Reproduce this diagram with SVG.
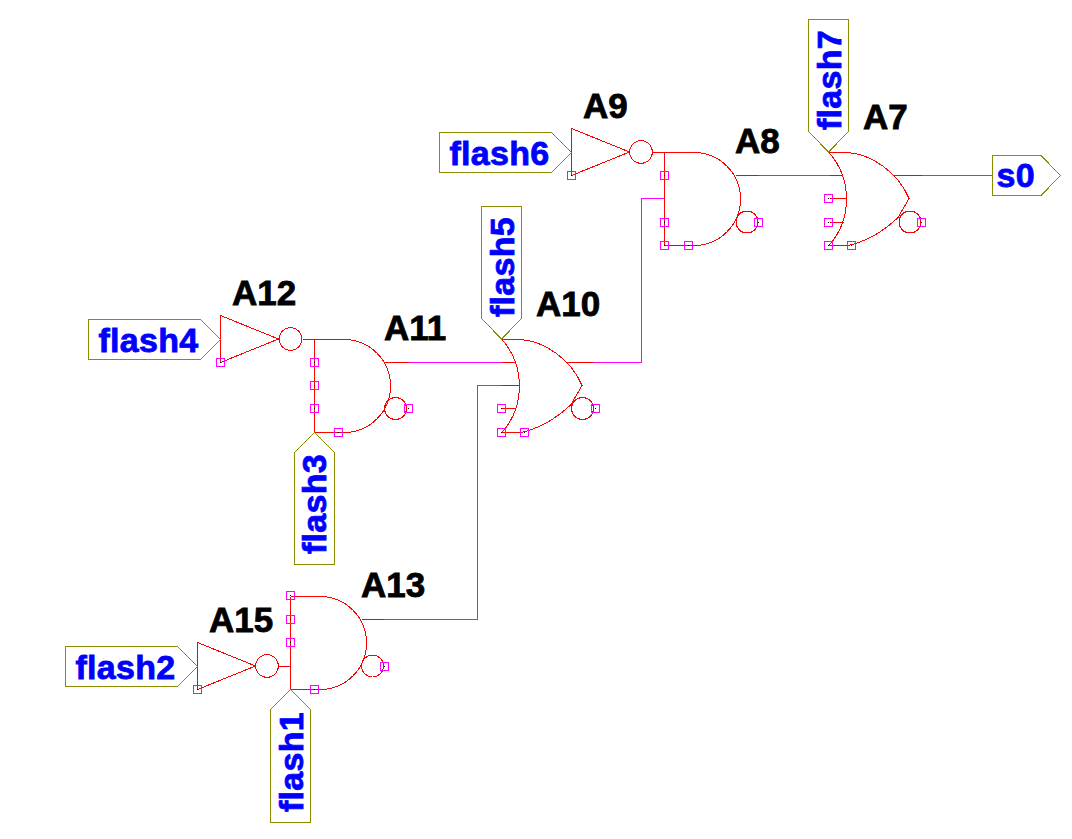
<svg xmlns="http://www.w3.org/2000/svg" xmlns:xlink="http://www.w3.org/1999/xlink" width="1072" height="839" viewBox="0 0 1072 839">
<style>
.g{fill:none;stroke:#f00;stroke-width:1;shape-rendering:crispEdges}
.w{fill:none;stroke:#f0f;stroke-width:1;shape-rendering:crispEdges}
.r{fill:none;stroke:#f00;stroke-width:1;shape-rendering:crispEdges}
.p{fill:none;stroke:#f0f;stroke-width:1;shape-rendering:crispEdges}
.d{fill:#000;shape-rendering:crispEdges}
.l{fill:#fff;stroke:#8c8c00;stroke-width:1;shape-rendering:crispEdges}
.t{font-family:"Liberation Sans",Arial,sans-serif;font-weight:bold;font-size:34px;letter-spacing:.3px;fill:#00f;stroke:#00f;stroke-width:.8}
.n{font-family:"Liberation Sans",Arial,sans-serif;font-weight:bold;font-size:35px;fill:#000;stroke:#000;stroke-width:.8}
</style>
<defs>
<g id="sq"><rect class="p" x="-4" y="-4" width="8" height="8"/><rect class="d" x="-0.5" y="-0.5" width="1" height="1"/></g>
<path id="inv" class="g" d="M0.5 -23.5V23.5L58.5 0Z"/>
<path id="and" class="g" d="M0 0H29.5A46.5 46.5 0 0 1 29.5 93H0V0"/>
<path id="or" class="g" d="M0 0A70.5 70.5 0 0 1 0 93M0 0H17C41 0.5 69 19.5 80 46L69 65Q46 87 19 93H0"/>
</defs>
<g id="connectors">
<path class="w" d="M408.5 362.5H501.5"/><path class="r" d="M384.5 362.5H408.5M501.5 362.5H515.5"/>
<path class="w" d="M593.5 362.5H641.5V198.5H664.5"/><path class="r" d="M565.5 362.5H593.5"/>
<path class="w" d="M383.5 619.5H477.5V385.5H501.5"/><path class="r" d="M361.5 619.5H383.5M501.5 385.5H518.5"/>
<path class="w" d="M758.5 175.5H829.5"/><path class="r" d="M735.5 175.5H758.5M829.5 175.5H841.5"/>
<path class="w" d="M921.5 175.5H992.5"/><path class="r" d="M892.5 175.5H921.5"/>
<path class="r" d="M652.5 152.5H664.5M302.5 339.5H314.5M278.5 666.5H290.5"/>
</g>
<g id="A9"><use xlink:href="#inv" x="571" y="152"/><circle class="g" cx="641" cy="152" r="11.3"/><use xlink:href="#sq" x="571.5" y="175.5"/><text class="n" x="583" y="118">A9</text></g>
<g id="A8"><use xlink:href="#and" x="664.5" y="152.5"/><circle class="g" cx="747" cy="222" r="11"/><use xlink:href="#sq" x="664.5" y="175.5"/><use xlink:href="#sq" x="664.5" y="222.5"/><use xlink:href="#sq" x="664.5" y="245.5"/><use xlink:href="#sq" x="688.5" y="245.5"/><use xlink:href="#sq" x="758.5" y="222.5"/><text class="n" x="735" y="153">A8</text></g>
<g id="A7"><use xlink:href="#or" x="829" y="152.5"/><path class="r" d="M829.5 198.5H846.5M829.5 222.5H843.5"/><circle class="g" cx="910" cy="222" r="11"/><use xlink:href="#sq" x="828.5" y="198.5"/><use xlink:href="#sq" x="828.5" y="222.5"/><use xlink:href="#sq" x="828.5" y="245.5"/><use xlink:href="#sq" x="851.5" y="245.5"/><use xlink:href="#sq" x="921.5" y="222.5"/><text class="n" x="863" y="129">A7</text></g>
<g id="A12"><use xlink:href="#inv" x="220" y="339"/><circle class="g" cx="290.5" cy="339" r="11.3"/><use xlink:href="#sq" x="220.5" y="362.5"/><text class="n" x="232" y="305">A12</text></g>
<g id="A11"><use xlink:href="#and" x="314.5" y="339.5"/><circle class="g" cx="395.5" cy="408.5" r="11"/><use xlink:href="#sq" x="314.5" y="362.5"/><use xlink:href="#sq" x="314.5" y="385.5"/><use xlink:href="#sq" x="314.5" y="408.5"/><use xlink:href="#sq" x="338.5" y="432.5"/><use xlink:href="#sq" x="408.5" y="408.5"/><text class="n" x="384" y="340">A11</text></g>
<g id="A10"><use xlink:href="#or" x="502" y="339.5"/><path class="r" d="M501.5 408.5H515.5"/><circle class="g" cx="582.5" cy="408.5" r="11"/><use xlink:href="#sq" x="501.5" y="408.5"/><use xlink:href="#sq" x="501.5" y="432.5"/><use xlink:href="#sq" x="524.5" y="432.5"/><use xlink:href="#sq" x="595.5" y="408.5"/><text class="n" x="536" y="316">A10</text></g>
<g id="A15"><use xlink:href="#inv" x="197" y="666"/><circle class="g" cx="267" cy="666" r="11.3"/><use xlink:href="#sq" x="197.5" y="689.5"/><text class="n" x="209" y="632">A15</text></g>
<g id="A13"><use xlink:href="#and" x="290.5" y="596.5"/><circle class="g" cx="372.5" cy="666" r="11"/><use xlink:href="#sq" x="290.5" y="595.5"/><use xlink:href="#sq" x="290.5" y="619.5"/><use xlink:href="#sq" x="290.5" y="642.5"/><use xlink:href="#sq" x="314.5" y="689.5"/><use xlink:href="#sq" x="384.5" y="666.5"/><text class="n" x="361" y="597">A13</text></g>
<g id="flash6"><path class="l" d="M439.5 132.5H551.5L571.5 152.5L551.5 172.5H439.5Z"/><text class="t" x="449.5" y="165">flash6</text></g>
<g id="flash4"><path class="l" d="M88.5 319.5H200.5L220.5 339.5L200.5 359.5H88.5Z"/><text class="t" x="98.5" y="352">flash4</text></g>
<g id="flash2"><path class="l" d="M65.5 646.5H177.5L197.5 666.5L177.5 686.5H65.5Z"/><text class="t" x="75.5" y="679">flash2</text></g>
<g id="s0"><path class="l" d="M992.5 155.5H1041L1060.5 175.5L1041 195.5H992.5Z"/><text class="t" x="996.5" y="187">s0</text></g>
<g id="flash7"><path class="l" d="M808.5 19.5H848.5V131.5L828.5 152L808.5 131.5Z"/><text class="t" transform="translate(841 130) rotate(-90)">flash7</text></g>
<g id="flash5"><path class="l" d="M481.5 206.5H521.5V318.5L501.5 339L481.5 318.5Z"/><text class="t" transform="translate(513.5 317) rotate(-90)">flash5</text></g>
<g id="flash3"><path class="l" d="M314.5 432.5L334.5 452.5V564.5H294.5V452.5Z"/><text class="t" transform="translate(326 554) rotate(-90)">flash3</text></g>
<g id="flash1"><path class="l" d="M290.5 689.5L310.5 709.5V822.5H270.5V709.5Z"/><text class="t" transform="translate(302.5 812) rotate(-90)">flash1</text></g>
</svg>
